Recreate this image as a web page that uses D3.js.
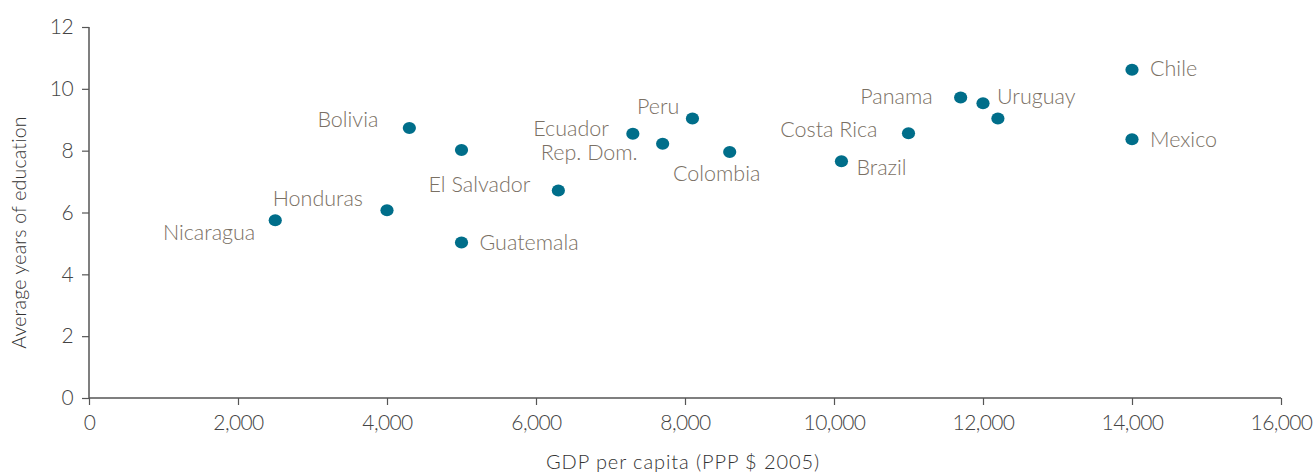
<!DOCTYPE html>
<html>
<head>
<meta charset="utf-8">
<script src="https://cdn.jsdelivr.net/npm/d3@7"></script>
<style>
  body { margin: 0; background: #fff; }
  svg text { font-family: Lato, "Open Sans", sans-serif; font-weight: 300; }
</style>
</head>
<body>
<div id="chart"></div>
<script>
// ---- data ----
const countries = ["Nicaragua", "Honduras", "Guatemala", "Bolivia", "", "El Salvador", "Ecuador",
  "Rep. Dom.", "Peru", "Colombia", "Brazil", "Costa Rica", "Panama", "Uruguay", "", "Chile", "Mexico"]
const gdp = [2500, 4000, 5000, 4300, 5000, 6300, 7300, 7700, 8100, 8600, 10100, 11000, 11700, 12000, 12200, 14000, 14000]
const education = [5.75, 6.07, 5.03, 8.73, 8.02, 6.71, 8.55, 8.22, 9.04, 7.96, 7.66, 8.56, 9.72, 9.53, 9.04, 10.62, 8.37]
const xTicks = [0, 2000, 4000, 6000, 8000, 10000, 12000, 14000, 16000]
const yTicks = [0, 2, 4, 6, 8, 10, 12]

// label placement (anchor, dx, dy) per country
const labelPlace = {
  "Nicaragua":   ["end", -20, 12],
  "Honduras":    ["end", -24, -12],
  "Guatemala":   ["start", 18, 0],
  "Bolivia":     ["end", -31, -9],
  "El Salvador": ["end", -28, -6],
  "Ecuador":     ["end", -24, -5],
  "Rep. Dom.":   ["end", -25, 9],
  "Peru":        ["end", -13, -12],
  "Colombia":    ["middle", -13, 22],
  "Brazil":      ["start", 15, 6],
  "Costa Rica":  ["end", -31, -4],
  "Panama":      ["end", -28, -1],
  "Uruguay":     ["start", 14, -7],
  "Chile":       ["start", 18, -1],
  "Mexico":      ["start", 18, 0]
}

const width = 1314, height = 472
const margin = { top: 27, right: 33, bottom: 74, left: 89 }
const w = width - margin.left - margin.right,
  h = height - margin.top - margin.bottom

const svg = d3.select("#chart").append("svg")
  .attr("width", width)
  .attr("height", height)

const g = svg.append("g")
  .attr("transform", "translate(" + margin.left + "," + margin.top + ")")

const x = d3.scaleLinear().domain([0, 16000]).range([0, w])
const y = d3.scaleLinear().domain([0, 12]).range([h, 0])

// axes
const xAxis = g.append("g")
  .attr("transform", "translate(0," + h + ")")
  .call(d3.axisBottom(x).tickValues(xTicks).tickSize(7).tickPadding(10).tickFormat(d3.format(",")))
const yAxis = g.append("g")
  .call(d3.axisLeft(y).tickValues(yTicks).tickSize(7).tickPadding(9))

for (const ax of [xAxis, yAxis]) {
  ax.select(".domain").attr("stroke", "#555").attr("stroke-width", 1.5)
  ax.selectAll(".tick line").attr("stroke", "#555").attr("stroke-width", 1.2)
  ax.selectAll(".tick text").attr("fill", "#444")
    .style("font-size", "21px").style("letter-spacing", "-0.6px")
}
// no end caps on the axis lines
xAxis.select(".domain").attr("d", "M0,0H" + w)
yAxis.select(".domain").attr("d", "M0," + h + "V0")

// axis titles
svg.append("text")
  .attr("x", margin.left + w / 2 - 2)
  .attr("y", 469)
  .attr("text-anchor", "middle")
  .attr("fill", "#333")
  .style("font-size", "20px")
  .style("letter-spacing", "0.9px")
  .text("GDP per capita (PPP $ 2005)")

svg.append("text")
  .attr("transform", "translate(26," + (margin.top + h / 2 + 20) + ") rotate(-90)")
  .attr("text-anchor", "middle")
  .attr("fill", "#333")
  .style("font-size", "19.5px")
  .style("letter-spacing", "0.2px")
  .text("Average years of education")

// points
const pts = countries.map((c, i) => ({ name: c, gdp: gdp[i], edu: education[i] }))

g.selectAll("ellipse.dot")
  .data(pts)
  .enter().append("ellipse")
  .attr("class", "dot")
  .attr("cx", d => x(d.gdp))
  .attr("cy", d => y(d.edu))
  .attr("rx", 6.6)
  .attr("ry", 6)
  .attr("fill", "#006e8a")

g.selectAll("text.lbl")
  .data(pts.filter(d => d.name !== ""))
  .enter().append("text")
  .attr("class", "lbl")
  .attr("x", d => x(d.gdp) + labelPlace[d.name][1])
  .attr("y", d => y(d.edu) + labelPlace[d.name][2])
  .attr("dy", "0.35em")
  .attr("text-anchor", d => labelPlace[d.name][0])
  .attr("fill", "#7a7064")
  .style("font-size", "21.5px")
  .text(d => d.name)
</script>
</body>
</html>
